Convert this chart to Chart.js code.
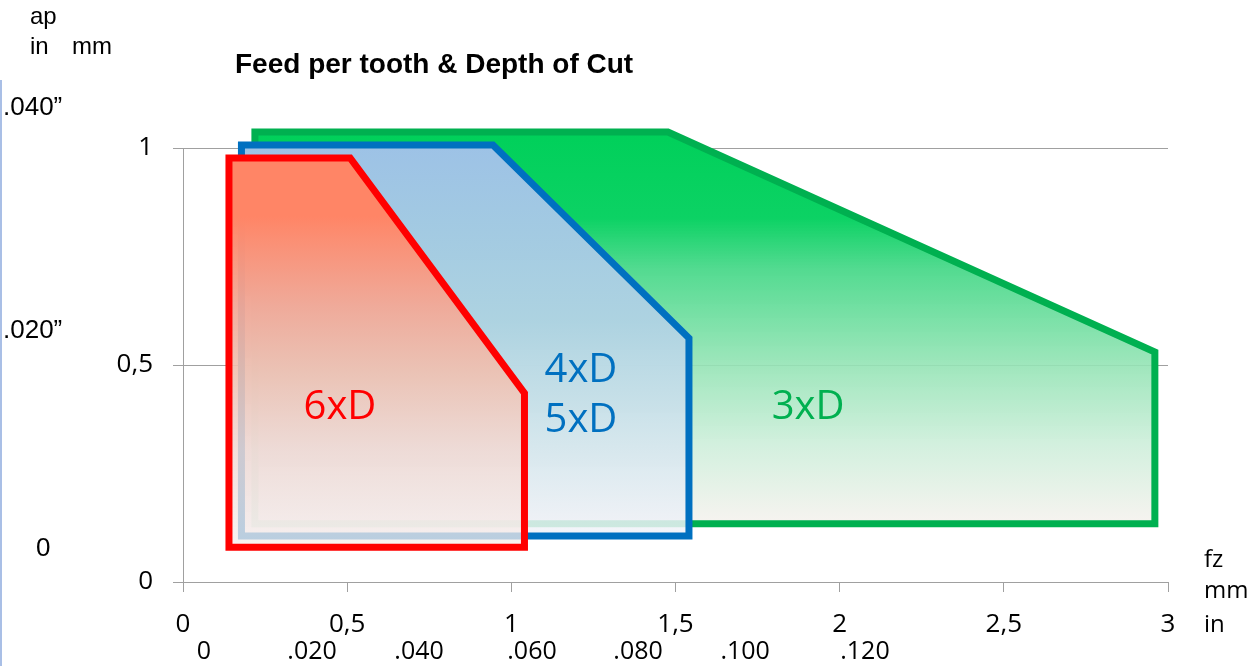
<!DOCTYPE html>
<html><head><meta charset="utf-8">
<script src="https://cdn.jsdelivr.net/npm/chart.js@4/dist/chart.umd.min.js"></script>
<style>html,body{margin:0;padding:0;background:#fff;}#wrap{width:1252px;height:666px;position:relative;}</style>
</head><body><div id="wrap"><canvas id="c" width="1252" height="666"></canvas></div>
<script>
// ---- data ----
const seriesNames = ['6xD', '4xD 5xD', '3xD'];
const redX   = [0.140, 0.509, 1.040, 1.040, 0.140, 0.140];
const redY   = [0.977, 0.977, 0.435, 0.080, 0.080, 0.977];
const blueX  = [0.178, 0.944, 1.541, 1.541, 0.178, 0.178];
const blueY  = [1.007, 1.007, 0.562, 0.106, 0.106, 1.007];
const greenX = [0.219, 1.477, 2.960, 2.960, 0.219, 0.219];
const greenY = [1.037, 1.037, 0.530, 0.134, 0.134, 1.037];
const xTickValues = [0, 0.5, 1, 1.5, 2, 2.5, 3];
const yTickValues = [0, 0.5, 1];
const inchXLabels = ['0', '.020', '.040', '.060', '.080', '.100', '.120'];
const inchYLabels = ['.040\u201D', '.020\u201D', '0'];
const titleText = 'Feed per tooth & Depth of Cut';

// ---- layout helpers (positions, not data) ----
const inchXPos = [0.064, 0.393, 0.719, 1.063, 1.386, 1.712, 2.077];
const inchYPos = [1.092, 0.578, 0.076];
const inchYLeft = [3, 3, 36];
const seriesLabelPos = [[0.478, 0.401], [1.212, 0.488], [1.212, 0.373], [1.904, 0.401]];

const pts = (xs, ys) => xs.map((x, i) => ({x, y: ys[i]}));

const polyFill = {
  id: 'polyFill',
  beforeDatasetDraw(chart, args) {
    const ds = chart.data.datasets[args.index];
    const p = args.meta.data;
    if (!p.length || !ds.gradientStops) return;
    const ctx = chart.ctx;
    const ys = p.map(e => e.y);
    const top = Math.min(...ys), bot = Math.max(...ys);
    const g = ctx.createLinearGradient(0, top, 0, bot);
    ds.gradientStops.forEach(([o, c]) => g.addColorStop(o, c));
    ctx.save();
    ctx.beginPath();
    p.forEach((e, i) => i ? ctx.lineTo(e.x, e.y) : ctx.moveTo(e.x, e.y));
    ctx.closePath();
    ctx.fillStyle = g;
    ctx.fill();
    ctx.restore();
  }
};

const textPlugin = {
  id: 'texts',
  afterDraw(chart) {
    const ctx = chart.ctx;
    const xs = chart.scales.x, ys = chart.scales.y;
    ctx.save();
    // left thin line
    ctx.strokeStyle = '#a9bfe6'; ctx.lineWidth = 2;
    ctx.beginPath(); ctx.moveTo(1, 80); ctx.lineTo(1, 666); ctx.stroke();
    // title
    ctx.fillStyle = '#000';
    ctx.font = "bold 28px 'Liberation Sans'";
    ctx.textAlign = 'left'; ctx.textBaseline = 'alphabetic';
    ctx.fillText(titleText, 235, 73);
    // axis unit labels
    ctx.font = "24px 'Liberation Sans'";
    ctx.fillText('ap', 30, 24);
    ctx.fillText('in', 30, 54);
    ctx.fillText('mm', 72, 54);
    ctx.font = "26px 'Liberation Sans'";
    inchYLabels.forEach((t, i) => {
      ctx.textBaseline = 'middle';
      ctx.fillText(t, inchYLeft[i], ys.getPixelForValue(inchYPos[i]));
    });
    ctx.font = "24px 'Open Sans'";
    ctx.textBaseline = 'middle';
    ctx.fillText('fz', 1204, 560);
    ctx.fillText('mm', 1204, 591);
    ctx.fillText('in', 1204, 625);
    // inch x labels
    ctx.font = "25px 'Open Sans'";
    ctx.textAlign = 'center';
    inchXLabels.forEach((t, i) => ctx.fillText(t, xs.getPixelForValue(inchXPos[i]), 652));
    // series labels
    ctx.font = "40px 'Open Sans'";
    const names = ['6xD', '4xD', '5xD', '3xD'];
    const cols = ['#ff0000', '#0070c0', '#0070c0', '#00b050'];
    names.forEach((t, i) => {
      ctx.fillStyle = cols[i];
      ctx.fillText(t, xs.getPixelForValue(seriesLabelPos[i][0]), ys.getPixelForValue(seriesLabelPos[i][1]));
    });
    ctx.restore();
  }
};

const lineDs = (label, xs, ys, color, stops) => ({
  label, data: pts(xs, ys), borderColor: color, borderWidth: 7,
  borderJoinStyle: 'miter', borderCapStyle: 'square',
  pointRadius: 0, showLine: true, fill: false, tension: 0, clip: false,
  gradientStops: stops
});

new Chart(document.getElementById('c'), {
  type: 'scatter',
  data: {
    datasets: [
      lineDs(seriesNames[0], redX, redY, '#ff0000', [
        [0, 'rgba(255,133,102,1)'], [0.15, 'rgba(255,133,102,1)'], [0.38, 'rgba(243,168,150,0.95)'],
        [0.55, 'rgba(240,192,176,0.9)'], [0.75, 'rgba(242,217,211,0.85)'], [1, 'rgba(246,238,236,0.75)']]),
      lineDs(seriesNames[1], blueX, blueY, '#0070c0', [
        [0, 'rgba(157,194,230,1)'], [0.45, 'rgba(176,210,228,0.95)'], [0.75, 'rgba(212,229,238,0.9)'],
        [1, 'rgba(242,243,249,0.85)']]),
      lineDs(seriesNames[2], greenX, greenY, '#00b050', [
        [0, 'rgba(0,208,90,1)'], [0.22, 'rgba(12,210,100,1)'], [0.35, 'rgba(70,216,136,0.93)'],
        [0.6, 'rgba(150,228,182,0.9)'], [0.8, 'rgba(205,238,218,0.88)'], [1, 'rgba(246,242,238,0.88)']])
    ]
  },
  options: {
    responsive: false, animation: false, devicePixelRatio: 1,
    layout: {padding: {top: 148, right: 84, left: 0, bottom: 0}},
    plugins: {legend: {display: false}, tooltip: {enabled: false}},
    scales: {
      x: {
        type: 'linear', min: 0, max: 3,
        afterBuildTicks: s => { s.ticks = xTickValues.map(v => ({value: v})); },
        afterFit: s => { s.height = 84; },
        grid: {drawOnChartArea: false, drawTicks: true, tickLength: 10, color: '#a0a0a0'},
        border: {display: true, color: '#a0a0a0', width: 1},
        ticks: {padding: 17, color: '#000', font: {family: "'Open Sans'", size: 26},
                maxRotation: 0, autoSkip: false,
                callback: v => String(v).replace('.', ',')}
      },
      y: {
        type: 'linear', min: 0, max: 1,
        afterBuildTicks: s => { s.ticks = yTickValues.map(v => ({value: v})); },
        afterFit: s => { s.width = 183; },
        grid: {drawOnChartArea: true, drawTicks: true, tickLength: 10, color: '#a0a0a0'},
        border: {display: true, color: '#a0a0a0', width: 1},
        ticks: {padding: 20, color: '#000', font: {family: "'Open Sans'", size: 26},
                callback: v => String(v).replace('.', ',')}
      }
    }
  },
  plugins: [polyFill, textPlugin]
});
</script></body></html>
